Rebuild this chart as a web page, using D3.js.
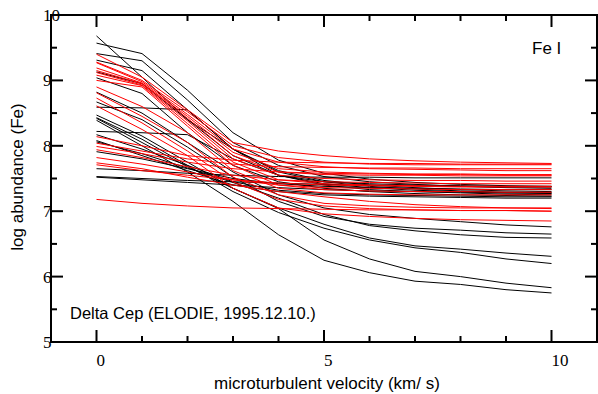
<!DOCTYPE html>
<html>
<head>
<meta charset="utf-8">
<script src="https://cdn.jsdelivr.net/npm/d3@7"></script>
<style>
  body { margin: 0; background: #fff; }
  svg { display: block; }
</style>
</head>
<body>
<script>
// microturbulent velocity grid (km/s)
var velocities = [0, 1, 2, 3, 4, 5, 6, 7, 8, 9, 10];

// abundance vs. vt, one row per line, black set
var blackLines = [
  [9.68, 9.05, 8.40, 7.95, 7.62, 7.47, 7.40, 7.36, 7.33, 7.31, 7.30],
  [9.57, 9.41, 8.85, 8.20, 7.78, 7.58, 7.49, 7.44, 7.41, 7.39, 7.38],
  [9.41, 9.30, 8.70, 8.05, 7.70, 7.53, 7.45, 7.41, 7.38, 7.36, 7.35],
  [9.31, 9.15, 8.55, 7.95, 7.60, 7.45, 7.38, 7.34, 7.31, 7.29, 7.28],
  [9.13, 8.95, 8.40, 7.85, 7.55, 7.42, 7.36, 7.32, 7.30, 7.28, 7.27],
  [9.04, 8.80, 8.20, 7.70, 7.45, 7.35, 7.30, 7.27, 7.25, 7.24, 7.23],
  [8.82, 8.50, 8.05, 7.60, 7.25, 7.05, 6.95, 6.89, 6.84, 6.79, 6.76],
  [8.67, 8.40, 7.98, 7.52, 7.15, 6.92, 6.80, 6.74, 6.71, 6.67, 6.65],
  [8.59, 8.58, 8.55, 7.95, 7.55, 7.40, 7.33, 7.30, 7.28, 7.26, 7.25],
  [8.47, 8.15, 7.75, 7.35, 7.05, 6.80, 6.59, 6.47, 6.42, 6.36, 6.31],
  [8.43, 8.10, 7.70, 7.30, 6.98, 6.74, 6.56, 6.44, 6.37, 6.27, 6.20],
  [8.42, 8.05, 7.68, 7.35, 7.04, 6.56, 6.27, 6.08, 6.00, 5.90, 5.83],
  [8.39, 8.00, 7.60, 7.15, 6.64, 6.25, 6.06, 5.93, 5.88, 5.80, 5.75],
  [8.22, 8.20, 8.17, 7.80, 7.55, 7.45, 7.42, 7.40, 7.39, 7.38, 7.38],
  [8.17, 7.95, 7.70, 7.45, 7.32, 7.27, 7.25, 7.24, 7.23, 7.22, 7.22],
  [8.08, 7.85, 7.62, 7.40, 7.30, 7.25, 7.23, 7.22, 7.21, 7.20, 7.20],
  [8.06, 7.88, 7.66, 7.44, 7.20, 6.95, 6.78, 6.70, 6.64, 6.60, 6.59],
  [7.91, 7.80, 7.65, 7.50, 7.42, 7.38, 7.36, 7.35, 7.34, 7.33, 7.33],
  [7.65, 7.62, 7.58, 7.55, 7.53, 7.52, 7.52, 7.51, 7.51, 7.51, 7.51],
  [7.53, 7.50, 7.47, 7.45, 7.43, 7.41, 7.40, 7.39, 7.38, 7.37, 7.37],
  [7.52, 7.48, 7.44, 7.40, 7.36, 7.33, 7.31, 7.30, 7.29, 7.28, 7.28]
];

// red set
var redLines = [
  [9.40, 9.05, 8.55, 8.05, 7.92, 7.85, 7.80, 7.77, 7.75, 7.74, 7.73],
  [9.28, 9.00, 8.52, 8.00, 7.82, 7.75, 7.72, 7.71, 7.71, 7.71, 7.71],
  [9.27, 8.98, 8.48, 7.95, 7.75, 7.68, 7.65, 7.64, 7.63, 7.62, 7.62],
  [9.19, 8.96, 8.45, 7.90, 7.65, 7.60, 7.58, 7.57, 7.57, 7.56, 7.56],
  [9.15, 8.95, 8.42, 7.85, 7.60, 7.56, 7.55, 7.55, 7.54, 7.54, 7.54],
  [9.12, 8.93, 8.38, 7.80, 7.55, 7.50, 7.48, 7.47, 7.47, 7.46, 7.46],
  [9.08, 8.92, 8.34, 7.75, 7.48, 7.42, 7.40, 7.39, 7.38, 7.38, 7.38],
  [9.00, 8.90, 8.30, 7.70, 7.40, 7.33, 7.31, 7.30, 7.30, 7.29, 7.29],
  [8.90, 8.60, 8.20, 7.62, 7.35, 7.28, 7.26, 7.25, 7.25, 7.25, 7.25],
  [8.81, 8.45, 8.05, 7.52, 7.25, 7.12, 7.08, 7.06, 7.05, 7.05, 7.05],
  [8.73, 8.35, 7.92, 7.45, 7.18, 7.08, 7.04, 7.02, 7.01, 7.01, 7.00],
  [8.61, 8.25, 7.85, 7.35, 7.05, 6.96, 6.92, 6.89, 6.87, 6.86, 6.85],
  [8.14, 8.00, 7.85, 7.78, 7.75, 7.74, 7.73, 7.73, 7.72, 7.72, 7.72],
  [8.04, 7.92, 7.80, 7.72, 7.68, 7.67, 7.66, 7.66, 7.65, 7.65, 7.65],
  [7.99, 7.88, 7.75, 7.65, 7.60, 7.58, 7.57, 7.56, 7.56, 7.55, 7.55],
  [7.94, 7.82, 7.68, 7.55, 7.48, 7.45, 7.44, 7.43, 7.42, 7.42, 7.42],
  [7.82, 7.72, 7.60, 7.48, 7.40, 7.36, 7.35, 7.34, 7.33, 7.33, 7.33],
  [7.74, 7.65, 7.52, 7.40, 7.30, 7.22, 7.15, 7.10, 7.07, 7.05, 7.04],
  [7.71, 7.62, 7.55, 7.48, 7.43, 7.40, 7.39, 7.38, 7.37, 7.37, 7.37],
  [7.18, 7.12, 7.08, 7.05, 7.04, 7.03, 7.02, 7.02, 7.01, 7.01, 7.00]
];

var xTicks = [0, 5, 10];
var yTicks = [5, 6, 7, 8, 9, 10];

var width = 598, height = 394;
var plotL = 51, plotR = 597, plotT = 15, plotB = 342;

var svg = d3.select("body").append("svg")
    .attr("width", width).attr("height", height);

var x = d3.scaleLinear().domain([-1, 11]).range([plotL, plotR]);
var y = d3.scaleLinear().domain([5, 10]).range([plotB, plotT]);

svg.append("clipPath").attr("id", "plotclip")
  .append("rect")
    .attr("x", plotL).attr("y", plotT)
    .attr("width", plotR - plotL).attr("height", plotB - plotT);

var line = d3.line()
    .x(function(d, i){ return x(velocities[i]); })
    .y(function(d){ return y(d); });

var plot = svg.append("g").attr("clip-path", "url(#plotclip)");

plot.selectAll("path.blk")
  .data(blackLines)
  .enter().append("path")
    .attr("class", "blk")
    .attr("fill", "none")
    .attr("stroke", "#000")
    .attr("stroke-width", 1)
    .attr("d", line);

plot.selectAll("path.red")
  .data(redLines)
  .enter().append("path")
    .attr("class", "red")
    .attr("fill", "none")
    .attr("stroke", "#ff0000")
    .attr("stroke-width", 1)
    .attr("d", line);

// frame: ticks point inward on all four sides
var frame = svg.append("g").attr("stroke", "#000").attr("stroke-width", 2);

d3.range(0, 11).forEach(function(v){
  var len = (v % 5 === 0) ? 12 : 6;
  frame.append("line").attr("x1", x(v)).attr("x2", x(v)).attr("y1", plotB).attr("y2", plotB - len);
  frame.append("line").attr("x1", x(v)).attr("x2", x(v)).attr("y1", plotT).attr("y2", plotT + len);
});
d3.range(5, 10.01, 0.5).forEach(function(v){
  var len = (v % 1 === 0) ? 12 : 6;
  frame.append("line").attr("y1", y(v)).attr("y2", y(v)).attr("x1", plotL).attr("x2", plotL + len);
  frame.append("line").attr("y1", y(v)).attr("y2", y(v)).attr("x1", plotR).attr("x2", plotR - len);
});

frame.append("rect")
    .attr("x", plotL).attr("y", plotT)
    .attr("width", plotR - plotL).attr("height", plotB - plotT)
    .attr("fill", "none");

// tick labels, serif, left-aligned like the original plotting package
svg.selectAll("text.xt")
  .data(xTicks)
  .enter().append("text")
    .attr("class", "xt")
    .attr("x", function(d){ return x(d); })
    .attr("y", 366)
    .attr("font-family", "Liberation Serif, serif")
    .attr("font-size", 17)
    .text(function(d){ return d; });

svg.selectAll("text.yt")
  .data(yTicks)
  .enter().append("text")
    .attr("class", "yt")
    .attr("x", 43)
    .attr("y", function(d){ return y(d) + 6; })
    .attr("font-family", "Liberation Serif, serif")
    .attr("font-size", 17)
    .text(function(d){ return d; });

var sans = "Liberation Sans, Arial, sans-serif";

svg.append("text")
    .attr("x", 327).attr("y", 389)
    .attr("text-anchor", "middle")
    .attr("font-family", sans).attr("font-size", 17)
    .text("microturbulent velocity (km/ s)");

svg.append("text")
    .attr("transform", "translate(23,177) rotate(-90)")
    .attr("text-anchor", "middle")
    .attr("font-family", sans).attr("font-size", 17)
    .text("log abundance (Fe)");

svg.append("text")
    .attr("x", 532).attr("y", 54)
    .attr("font-family", sans).attr("font-size", 17)
    .text("Fe I");

svg.append("text")
    .attr("x", 70).attr("y", 319)
    .attr("font-family", sans).attr("font-size", 16.5)
    .text("Delta Cep (ELODIE, 1995.12.10.)");
</script>
</body>
</html>
